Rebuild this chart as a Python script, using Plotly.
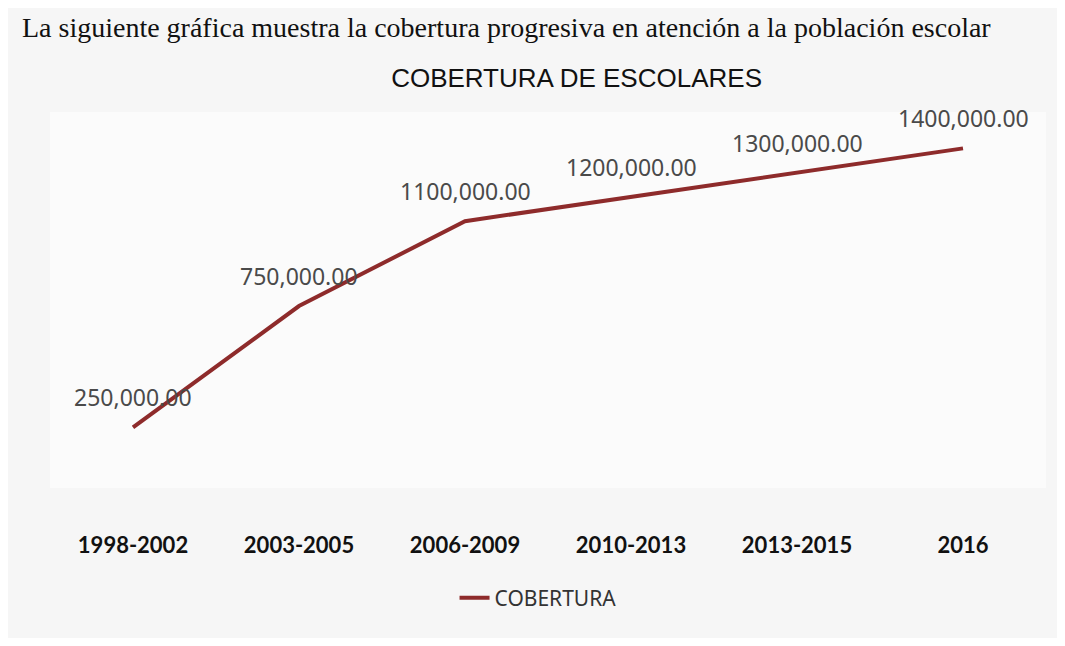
import plotly.graph_objects as go

# Datos
periodos = ["1998-2002", "2003-2005", "2006-2009", "2010-2013", "2013-2015", "2016"]
cobertura = [250000, 750000, 1100000, 1200000, 1300000, 1400000]

LINE_COLOR = "#8E2B2B"
LABEL_COLOR = "#4a4a4a"


def fmt(v):
    # formato tal como aparece en la imagen: "1100,000.00"
    return f"{v // 1000},{v % 1000:03d}.00"


# posiciones por índice; las etiquetas del eje salen de `periodos`
pos = list(range(len(periodos)))

fig = go.Figure()
fig.add_trace(
    go.Scatter(
        x=pos,
        y=cobertura,
        mode="lines",
        name="COBERTURA",
        line=dict(color=LINE_COLOR, width=4),
    )
)

# etiquetas de datos sobre cada punto
for i, v in zip(pos, cobertura):
    fig.add_annotation(
        x=i, y=v, text=fmt(v), showarrow=False,
        yshift=30, font=dict(family="Noto Sans, Open Sans", size=23, color=LABEL_COLOR),
    )

# texto del documento escaneado
fig.add_annotation(
    xref="paper", yref="paper", x=-0.03, y=1.225, xanchor="left", yanchor="middle",
    text="La siguiente gráfica muestra la cobertura progresiva en atención a la población escolar",
    showarrow=False,
    font=dict(family="Liberation Serif, DejaVu Serif", size=28, color="#111"),
)

fig.update_layout(
    width=1049,
    height=630,
    paper_bgcolor="#f6f6f6",
    plot_bgcolor="#fbfbfb",
    title=dict(
        text="COBERTURA DE ESCOLARES",
        x=0.542, xanchor="center", y=0.889, yanchor="middle",
        font=dict(family="Liberation Sans, Arial", size=26, color="#111"),
    ),
    margin=dict(l=42, r=11, t=104, b=150),
    xaxis=dict(
        range=[-0.5, len(periodos) - 0.5],
        tickmode="array", tickvals=pos, ticktext=periodos,
        showgrid=False, zeroline=False, showline=False,
        ticks="outside", ticklen=38, tickcolor="rgba(0,0,0,0)",
        tickfont=dict(family="Lato, Noto Sans", size=22, color="#111", weight="bold"),
    ),
    yaxis=dict(
        range=[0, 1550000], visible=False, showgrid=False, zeroline=False,
    ),
    showlegend=True,
    legend=dict(
        orientation="h", x=0.49, xanchor="center", y=-0.293, yanchor="middle",
        font=dict(family="Noto Sans, Open Sans", size=21, color="#333"),
        bgcolor="rgba(0,0,0,0)",
    ),
)

fig.write_html("out.html")
